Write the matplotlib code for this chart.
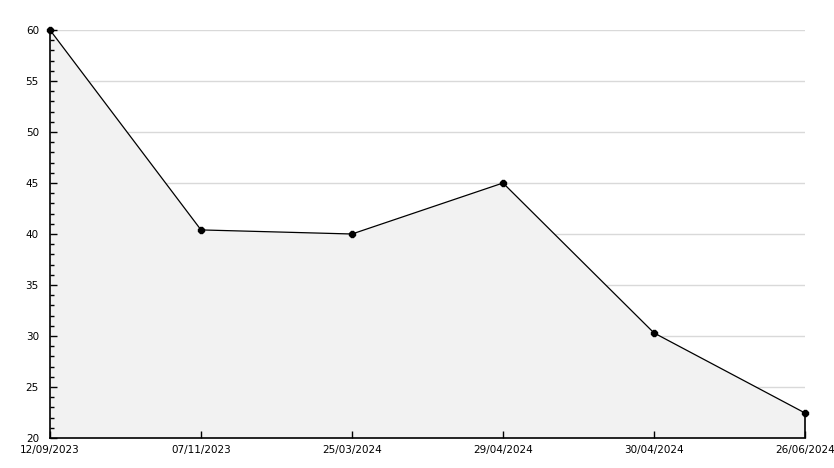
import matplotlib
matplotlib.use("Agg")
from matplotlib import pyplot as plt
from matplotlib.ticker import MultipleLocator
import numpy as np

dates = ["12/09/2023", "07/11/2023", "25/03/2024", "29/04/2024", "30/04/2024", "26/06/2024"]
values = [60, 40.4, 40, 45, 30.3, 22.45]
grid_levels = [25, 30, 35, 40, 45, 50, 55, 60]

x = np.arange(len(dates))

fig = plt.figure(figsize=(8.34, 4.68), dpi=100)
ax = fig.add_axes([50 / 834, 30 / 468, 755 / 834, 408 / 468])

# grid drawn by hand so it stays under the fill while ticks stay on top
ax.hlines(grid_levels, 0, len(dates) - 1, color="#d9d9d9", linewidth=1, zorder=0.1)
ax.fill_between(x, values, 20, color="#f2f2f2", linewidth=0, zorder=0.2)
ax.plot(x, values, color="black", linewidth=0.9, marker="8", markersize=4.5,
        zorder=3, clip_on=False)
ax.vlines(x[-1], 20, values[-1], color="black", linewidth=1.2, clip_on=False)

ax.set_xlim(0, len(dates) - 1)
ax.set_ylim(20, 60)
ax.set_xticks(x)
ax.set_xticklabels(dates)
ax.yaxis.set_major_locator(MultipleLocator(5))
ax.yaxis.set_minor_locator(MultipleLocator(1))
ax.set_axisbelow(True)

for s in ["top", "right"]:
  ax.spines[s].set_visible(False)
ax.spines["left"].set_linewidth(1.2)
ax.spines["bottom"].set_linewidth(1.2)

ax.tick_params(axis="both", which="both", direction="in", labelsize=7.5, width=1)
ax.tick_params(axis="y", which="major", length=5, pad=8)
ax.tick_params(axis="y", which="minor", length=3)
ax.tick_params(axis="x", length=5, pad=5)
for lab in ax.get_yticklabels():
  lab.set_verticalalignment("center_baseline")

fig.savefig("out.png", dpi=100)
